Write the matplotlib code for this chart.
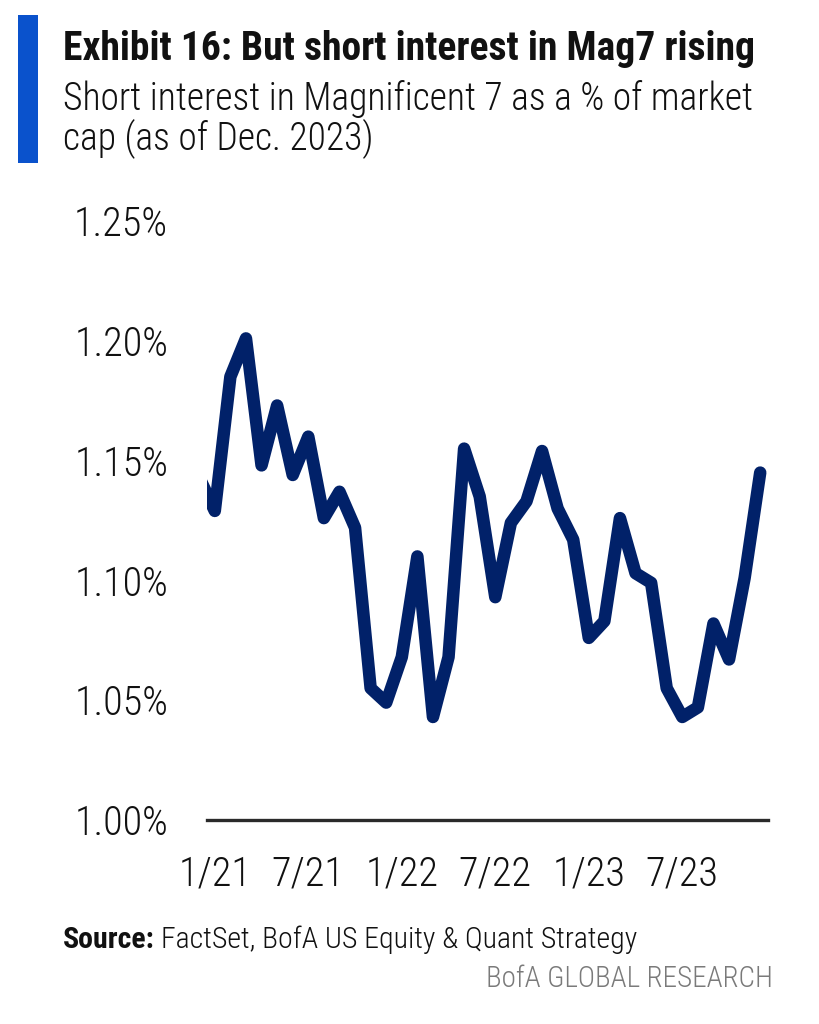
import matplotlib
matplotlib.use("Agg")
import matplotlib.pyplot as plt
from matplotlib import font_manager
from matplotlib.patches import Rectangle

# --- data (month index 0 = Jan 2021) -------------------------------------
months = list(range(-1, 36))  # Dec 2020 .. Dec 2023 (first point is clipped)
short_interest = [
    1.143,                                                       # 12/20
    1.129, 1.185, 1.201, 1.148, 1.173, 1.144,                    # 1/21 - 6/21
    1.160, 1.126, 1.137, 1.122, 1.055, 1.049,                    # 7/21 - 12/21
    1.068, 1.110, 1.043, 1.068, 1.155, 1.135,                    # 1/22 - 6/22
    1.093, 1.124, 1.133, 1.154, 1.130, 1.117,                    # 7/22 - 12/22
    1.076, 1.083, 1.126, 1.103, 1.099, 1.055,                    # 1/23 - 6/23
    1.043, 1.047, 1.082, 1.067, 1.101, 1.145,                    # 7/23 - 12/23
]
x_ticks = [0, 6, 12, 18, 24, 30]
x_labels = ["1/21", "7/21", "1/22", "7/22", "1/23", "7/23"]
y_ticks = [1.00, 1.05, 1.10, 1.15, 1.20, 1.25]

# --- style ----------------------------------------------------------------
NAVY = "#012169"
BLUE_BAR = "#0A52CC"
TEXT = "#111111"
GREY = "#7a7a7a"

names = {f.name for f in font_manager.fontManager.ttflist}
FONT = "DejaVu Sans"
for cand in ["Roboto Condensed", "Liberation Sans Narrow", "DejaVu Sans Condensed", "Open Sans Condensed"]:
    if cand in names:
        FONT = cand
        break
plt.rcParams["font.family"] = [FONT, "DejaVu Sans"]

W, H = 820, 1024
fig = plt.figure(figsize=(W / 100, H / 100), dpi=100)
fig.patch.set_facecolor("white")


def fy(px):
    return 1 - px / H


def fx(px):
    return px / W


# --- header ---------------------------------------------------------------
fig.patches.append(
    Rectangle((fx(18), fy(163)), fx(20), 148 / H, transform=fig.transFigure,
              facecolor=BLUE_BAR, edgecolor="none")
)
fig.text(fx(63), fy(60), "Exhibit 16: But short interest in Mag7 rising",
         fontsize=28.5, fontweight="bold", color=TEXT, va="baseline")
fig.text(fx(63), fy(110), "Short interest in Magnificent 7 as a % of market",
         fontsize=27, fontweight="light", color=TEXT, va="baseline")
fig.text(fx(63), fy(150), "cap (as of Dec. 2023)",
         fontsize=27, fontweight="light", color=TEXT, va="baseline")

# --- chart ----------------------------------------------------------------
ax = fig.add_axes([fx(207), fy(820), (768 - 207) / W, (820 - 221) / H])
ax.plot(months, short_interest, color=NAVY, linewidth=9,
        solid_joinstyle="round", solid_capstyle="round")
ax.set_xlim(-0.5, 35.5)
ax.set_ylim(1.0, 1.25)
ax.axhline(1.0, color="#2a2a2a", linewidth=2.4, clip_on=False, zorder=3)

for s in ax.spines.values():
    s.set_visible(False)
ax.set_facecolor("white")

ax.set_yticks(y_ticks)
ax.set_yticklabels([f"{v:.2f}%" for v in y_ticks], fontweight="light")
ax.set_xticks(x_ticks)
ax.set_xticklabels(x_labels, fontweight="light")
ax.tick_params(axis="y", length=0, pad=28, labelsize=29, labelcolor=TEXT)
ax.tick_params(axis="x", length=0, pad=25, labelsize=29, labelcolor=TEXT)

# --- footer ---------------------------------------------------------------
src = fig.text(fx(63), fy(948), "Source:", fontsize=21.5, fontweight="bold",
               color=TEXT, va="baseline")
renderer = fig.canvas.get_renderer()
bb = src.get_window_extent(renderer)
fig.text(bb.x1 / W + fx(6), fy(948), "FactSet, BofA US Equity & Quant Strategy",
         fontsize=21.5, fontweight="light", color=TEXT, va="baseline")
fig.text(fx(773), fy(987), "BofA GLOBAL RESEARCH", fontsize=21, fontweight="light",
         color=GREY, va="baseline", ha="right")

fig.savefig("out.png", dpi=100, facecolor="white")
